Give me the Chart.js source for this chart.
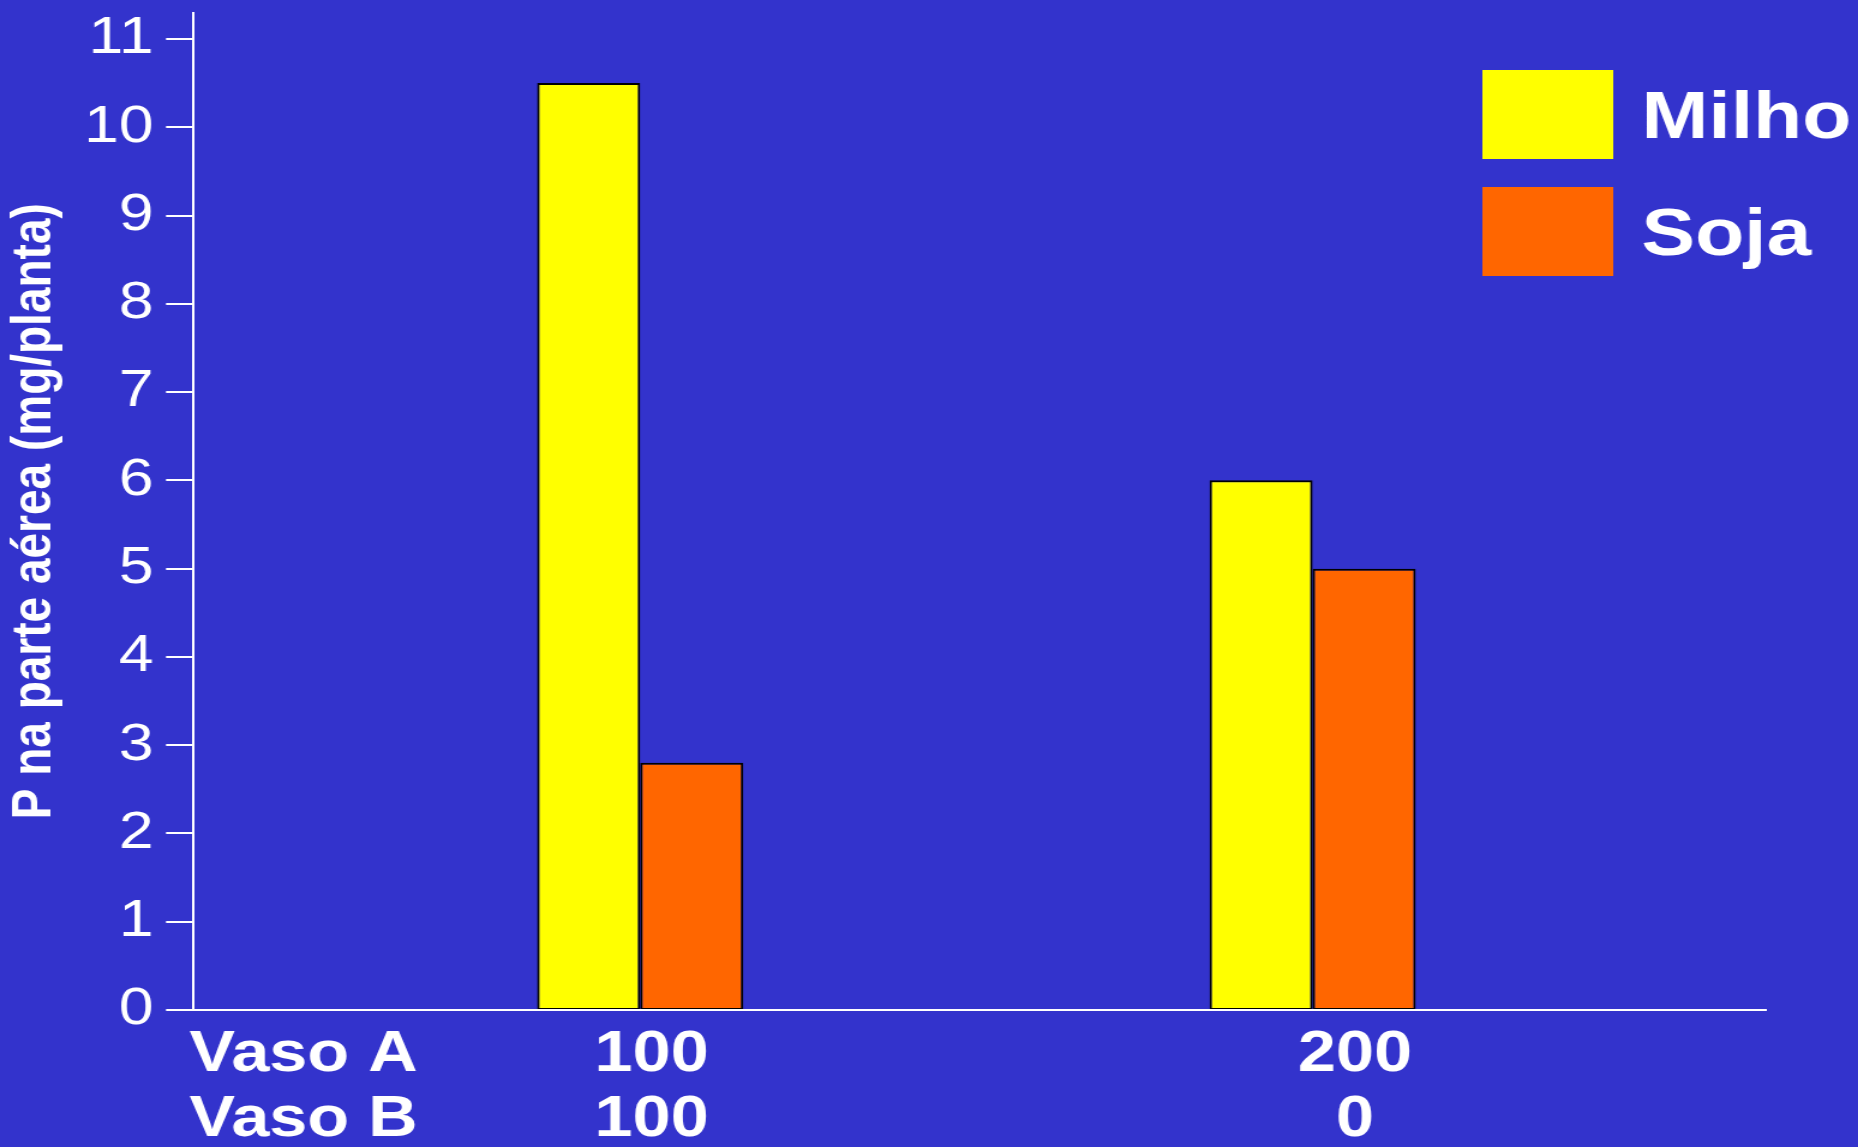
<!DOCTYPE html>
<html>
<head>
<meta charset="utf-8">
<title>P na parte aérea</title>
<script src="https://cdn.jsdelivr.net/npm/chart.js@4.4.1/dist/chart.umd.min.js"></script>
<style>
  html, body { margin: 0; padding: 0; background: #3333CC; overflow: hidden; }
  /* the slide is drawn on a 1548px canvas and widened to fill the 1858px window */
  #stage { width: 1548px; height: 1147px; transform: scaleX(1.2003); transform-origin: 0 0; }
</style>
</head>
<body>
<div id="stage"><canvas id="chart"></canvas></div>
<script>
// Series: P in the shoot (mg/plant) for each treatment
const crops = ['Milho', 'Soja'];
const milho = [10.5, 6];
const soja = [2.8, 5];

// Treatment table shown under the x axis
const rowLabels = ['Vaso A', 'Vaso B'];
const vasoA = ['100', '200'];
const vasoB = ['100', '0'];

// Y axis
const yMin = 0;
const yMax = 11.3;
const yStep = 0.5;

const FONT = "'Liberation Sans', Arial, Helvetica, sans-serif";
Chart.defaults.font.family = FONT;
Chart.defaults.color = '#ffffff';

// long ticks on whole numbers, short ticks on halves
const tickMarks = {
  id: 'tickMarks',
  afterDatasetsDraw(chart, args, o) {
    const ys = chart.scales.y, ctx = chart.ctx, x0 = chart.chartArea.left;
    ctx.save();
    ctx.strokeStyle = o.color;
    ctx.lineWidth = o.width;
    ys.ticks.forEach(t => {
      const py = Math.round(ys.getPixelForValue(t.value));
      const len = Number.isInteger(t.value) ? o.major : o.minor;
      ctx.beginPath();
      ctx.moveTo(x0 - len, py);
      ctx.lineTo(x0 + 1, py);
      ctx.stroke();
    });
    ctx.restore();
  }
};

// row names of the treatment table, on the same lines as the x tick labels
const rowHeaders = {
  id: 'rowHeaders',
  afterDraw(chart, args, o) {
    const xs = chart.scales.x, t = xs.options.ticks, ctx = chart.ctx;
    const font = Chart.helpers.toFont(t.font);
    ctx.save();
    ctx.font = font.string;
    ctx.fillStyle = t.color;
    ctx.textAlign = 'left';
    ctx.textBaseline = 'middle';
    const y0 = xs.top + t.padding + font.lineHeight / 2;
    o.labels.forEach((s, i) => ctx.fillText(s, chart.chartArea.left + o.shift, y0 + i * font.lineHeight));
    ctx.restore();
  }
};

// colour boxes with the crop names, top right
const boxLegend = {
  id: 'boxLegend',
  afterDraw(chart, args, o) {
    const ctx = chart.ctx;
    ctx.save();
    ctx.font = 'bold ' + o.fontSize + 'px ' + FONT;
    ctx.textAlign = 'left';
    ctx.textBaseline = 'alphabetic';
    chart.data.datasets.forEach((ds, i) => {
      const top = o.top + i * o.pitch;
      ctx.fillStyle = ds.backgroundColor;
      ctx.fillRect(o.left, top, o.boxWidth, o.boxHeight);
      ctx.fillStyle = o.color;
      ctx.fillText(ds.label, o.textLeft, top + o.boxHeight / 2 + o.fontSize * 0.358);
    });
    ctx.restore();
  }
};

const barStyle = { borderColor: '#000000', borderWidth: 2, borderSkipped: false };

new Chart(document.getElementById('chart'), {
  type: 'bar',
  data: {
    datasets: [
      Object.assign({ label: crops[0], data: milho.map((y, i) => ({ x: i + 1, y })), backgroundColor: '#FFFF00' }, barStyle),
      Object.assign({ label: crops[1], data: soja.map((y, i) => ({ x: i + 1, y })), backgroundColor: '#FF6600' }, barStyle)
    ]
  },
  options: {
    responsive: true,
    maintainAspectRatio: false,
    animation: false,
    events: [],
    categoryPercentage: 0.3066,
    barPercentage: 1,
    layout: { padding: { left: 0, right: 76.3, top: 12.5, bottom: 0 } },
    plugins: {
      legend: { display: false },
      tooltip: { enabled: false },
      tickMarks: { color: '#ffffff', width: 2, major: 22.5, minor: 14 },
      rowHeaders: { labels: rowLabels, shift: -3 },
      boxLegend: { left: 1235, top: 70, boxWidth: 109, boxHeight: 89, pitch: 117, textLeft: 1367.5, fontSize: 67, color: '#ffffff' }
    },
    scales: {
      x: {
        type: 'linear',
        min: 0.335,
        max: 2.675,
        offset: false,
        grid: { display: false, drawTicks: false },
        border: { display: true, color: '#ffffff', width: 2, z: 1 },
        ticks: {
          autoSkip: false,
          maxRotation: 0,
          padding: 12.5,
          color: '#ffffff',
          font: { size: 57, weight: 'bold', lineHeight: 1.14 },
          callback: (v, i) => [vasoA[i], vasoB[i]]
        },
        // one column of the treatment table per group of bars
        afterBuildTicks(s) { s.ticks = [1.017, 2.063].map(value => ({ value })); },
        afterFit(s) { s.height = 137; s.paddingLeft = 0; s.paddingRight = 0; }
      },
      y: {
        min: yMin,
        max: yMax,
        grid: { display: false, drawTicks: false },
        border: { display: true, color: '#ffffff', width: 2 },
        ticks: {
          stepSize: yStep,
          includeBounds: false,
          padding: 33,
          color: '#ffffff',
          font: { size: 52 },
          callback: v => Number.isInteger(v) ? String(v) : ''
        },
        title: {
          display: true,
          text: 'P na parte aérea (mg/planta)',
          color: '#ffffff',
          font: { size: 46, weight: 'bold' },
          padding: { top: 1.5, bottom: 0 }
        },
        afterFit(s) { s.width = 160.8; s.paddingTop = 0; s.paddingBottom = 0; }
      }
    }
  },
  plugins: [tickMarks, rowHeaders, boxLegend]
});
</script>
</body>
</html>
